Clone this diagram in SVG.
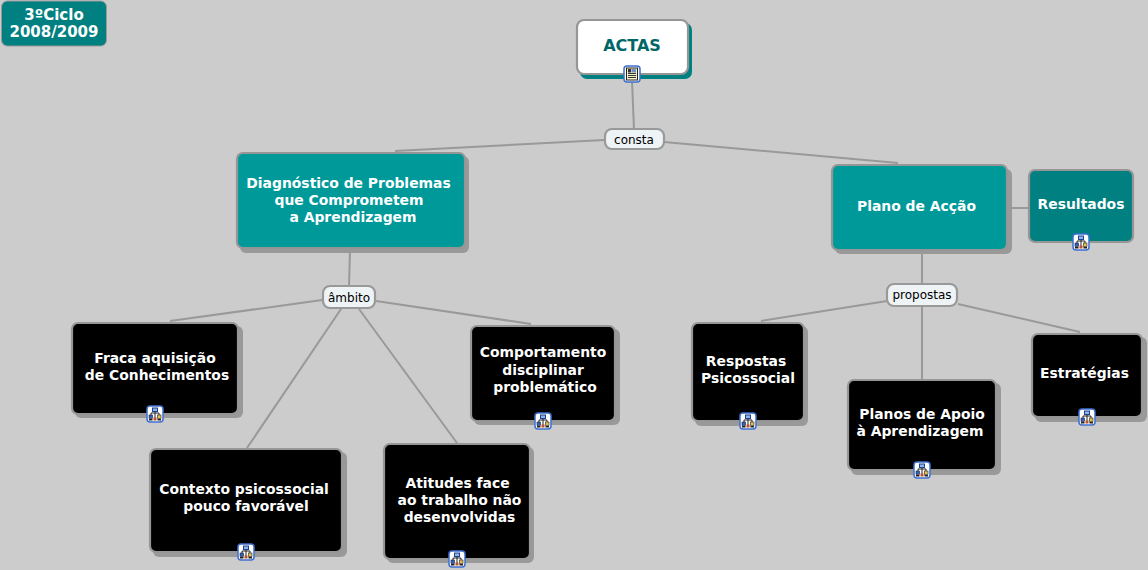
<svg xmlns="http://www.w3.org/2000/svg" xmlns:xlink="http://www.w3.org/1999/xlink" width="1148" height="570" viewBox="0 0 1148 570">
<style>
text{font-family:"DejaVu Sans",Verdana,sans-serif;text-anchor:middle}
.n{font-size:13.9px;font-weight:bold;fill:#fff}
.l{font-size:12px;fill:#000}
.c line{stroke:#999;stroke-width:2;fill:none}
.box{stroke:#969696;stroke-width:2.200}
.sh{fill:#999}
.black{fill:#000}
.teal{fill:#009999}
.dark{fill:#008080}
.lab{fill:#eef3f6;stroke:#999;stroke-width:2.200}
</style>
<defs>
<g id="cmap">
<rect x="-8" y="-8" width="16" height="16" rx="3" fill="#fff" stroke="#3c6fd0" stroke-width="1.500"/>
<path d="M0-3V5M-4 1V-1H4V1" fill="none" stroke="#222" stroke-width="1"/>
<rect x="-2.500" y="-6" width="5" height="3.500" fill="#8fb4e8" stroke="#1f3f90" stroke-width="1"/>
<rect x="-6" y="1" width="3.500" height="3.500" fill="#3060c0" stroke="#222" stroke-width=".6"/>
<rect x="2.500" y="1" width="3.500" height="3.500" fill="#e0c050" stroke="#222" stroke-width=".6"/>
<rect x="-6" y="5" width="3.500" height="1.500" fill="#222"/>
<rect x="2.500" y="5" width="3.500" height="1.500" fill="#222"/>
<rect x="-1.500" y="3.500" width="3" height="3" fill="#c05030"/>
</g>
</defs>
<rect width="1148" height="570" fill="#cccccc"/>
<g class="c" id="connectors">
<line x1="632" y1="80" x2="634" y2="130"/>
<line x1="604" y1="140" x2="395" y2="151"/>
<line x1="664" y1="142" x2="898" y2="163"/>
<line x1="350" y1="250" x2="349" y2="286"/>
<line x1="322" y1="300" x2="170" y2="321"/>
<line x1="341" y1="309" x2="247" y2="448"/>
<line x1="359" y1="309" x2="457" y2="443"/>
<line x1="376" y1="301" x2="531" y2="324"/>
<line x1="922" y1="252" x2="922" y2="283"/>
<line x1="887" y1="301" x2="761" y2="321"/>
<line x1="922" y1="306" x2="922" y2="379"/>
<line x1="958" y1="304" x2="1080" y2="332"/>
<line x1="1008" y1="208" x2="1029" y2="208"/>
</g>
<g id="ciclo">
<rect x="1.500" y="1" width="105" height="45" rx="6" fill="#008080" stroke="#999" stroke-width="1"/>
<text x="54" y="20" style="font-size:15px;font-weight:bold;fill:#fff">3ºCiclo</text>
<text x="54" y="37" style="font-size:15px;font-weight:bold;fill:#fff">2008/2009</text>
</g>
<g id="actas">
<rect x="580" y="23" width="112" height="56" rx="7" fill="#008080"/>
<rect x="577" y="20" width="111" height="54" rx="7" fill="#fff" class="box"/>
<text x="632" y="51" style="font-size:16px;font-weight:bold;fill:#006666">ACTAS</text>
<g transform="translate(632,74)">
<rect x="-8" y="-8" width="16" height="16" rx="3" fill="#fff" stroke="#3c6fd0" stroke-width="1.500"/>
<rect x="-5.500" y="-6" width="11" height="12" fill="#f7f3c8" stroke="#222" stroke-width="1"/>
<path d="M-4-.5H4M-4 1.500H4M-4 3.500H4" stroke="#333" stroke-width="1"/>
<rect x="-.5" y="-5" width="4.500" height="3.500" fill="#7090c0"/>
<rect x="-4" y="-5" width="3" height="3.500" fill="#333"/>
</g>
</g>
<g id="consta">
<rect class="lab" x="605" y="129" width="59" height="20" rx="7"/>
<text class="l" x="634" y="143.500">consta</text>
</g>
<g id="diagnostico">
<rect class="sh" x="240" y="156" width="229" height="97" rx="6"/>
<rect class="box teal" x="237" y="153" width="228" height="95" rx="6"/>
<text class="n" x="348.500" y="188">Diagnóstico de Problemas</text>
<text class="n" x="349" y="205">que Comprometem</text>
<text class="n" x="353" y="222">a Aprendizagem</text>
</g>
<g id="plano">
<rect class="sh" x="835" y="169" width="177" height="85" rx="6"/>
<rect class="box teal" x="832" y="165" width="175" height="85" rx="6"/>
<text class="n" x="916.500" y="211">Plano de Acção</text>
</g>
<g id="resultados">
<rect class="box dark" x="1029" y="170" width="104" height="72" rx="6"/>
<text class="n" x="1081" y="209">Resultados</text>
<use xlink:href="#cmap" href="#cmap" x="1081" y="242"/>
</g>
<g id="ambito">
<rect class="lab" x="323" y="286" width="52" height="22" rx="7"/>
<text class="l" x="349" y="301.500">âmbito</text>
</g>
<g id="propostas">
<rect class="lab" x="887" y="284" width="70" height="22" rx="7"/>
<text class="l" x="922" y="299">propostas</text>
</g>
<g id="fraca">
<rect class="sh" x="75" y="326" width="168" height="92" rx="6"/>
<rect class="box black" x="72" y="323" width="166" height="91" rx="6"/>
<text class="n" x="155" y="363">Fraca aquisição</text>
<text class="n" x="157" y="380">de Conhecimentos</text>
<use xlink:href="#cmap" href="#cmap" x="155" y="414"/>
</g>
<g id="contexto">
<rect class="sh" x="153" y="452" width="194" height="105" rx="6"/>
<rect class="box black" x="150" y="449" width="192" height="103" rx="6"/>
<text class="n" x="244" y="493.500">Contexto psicossocial</text>
<text class="n" x="246" y="511">pouco favorável</text>
<use xlink:href="#cmap" href="#cmap" x="246" y="552"/>
</g>
<g id="atitudes">
<rect class="sh" x="387" y="447" width="147" height="116" rx="6"/>
<rect class="box black" x="384" y="444" width="146" height="115" rx="6"/>
<text class="n" x="457.500" y="487.500">Atitudes face</text>
<text class="n" x="459.500" y="505">ao trabalho não</text>
<text class="n" x="459.500" y="522">desenvolvidas</text>
<use xlink:href="#cmap" href="#cmap" x="457" y="559"/>
</g>
<g id="comportamento">
<rect class="sh" x="474" y="329" width="146" height="96" rx="6"/>
<rect class="box black" x="471" y="326" width="144" height="95" rx="6"/>
<text class="n" x="543" y="357">Comportamento</text>
<text class="n" x="543" y="375">disciplinar</text>
<text class="n" x="545" y="392">problemático</text>
<use xlink:href="#cmap" href="#cmap" x="543" y="421"/>
</g>
<g id="respostas">
<rect class="sh" x="695" y="326" width="113" height="100" rx="6"/>
<rect class="box black" x="692" y="323" width="112" height="98" rx="6"/>
<text class="n" x="746" y="366">Respostas</text>
<text class="n" x="748" y="383">Psicossocial</text>
<use xlink:href="#cmap" href="#cmap" x="748" y="421"/>
</g>
<g id="planos">
<rect class="sh" x="851" y="383" width="150" height="92" rx="6"/>
<rect class="box black" x="848" y="380" width="148" height="90" rx="6"/>
<text class="n" x="922" y="419">Planos de Apoio</text>
<text class="n" x="920" y="436">à Aprendizagem</text>
<use xlink:href="#cmap" href="#cmap" x="922" y="470"/>
</g>
<g id="estrategias">
<rect class="sh" x="1035" y="337" width="112" height="85" rx="6"/>
<rect class="box black" x="1032" y="334" width="110" height="83" rx="6"/>
<text class="n" x="1084.500" y="378">Estratégias</text>
<use xlink:href="#cmap" href="#cmap" x="1087" y="417"/>
</g>
</svg>
